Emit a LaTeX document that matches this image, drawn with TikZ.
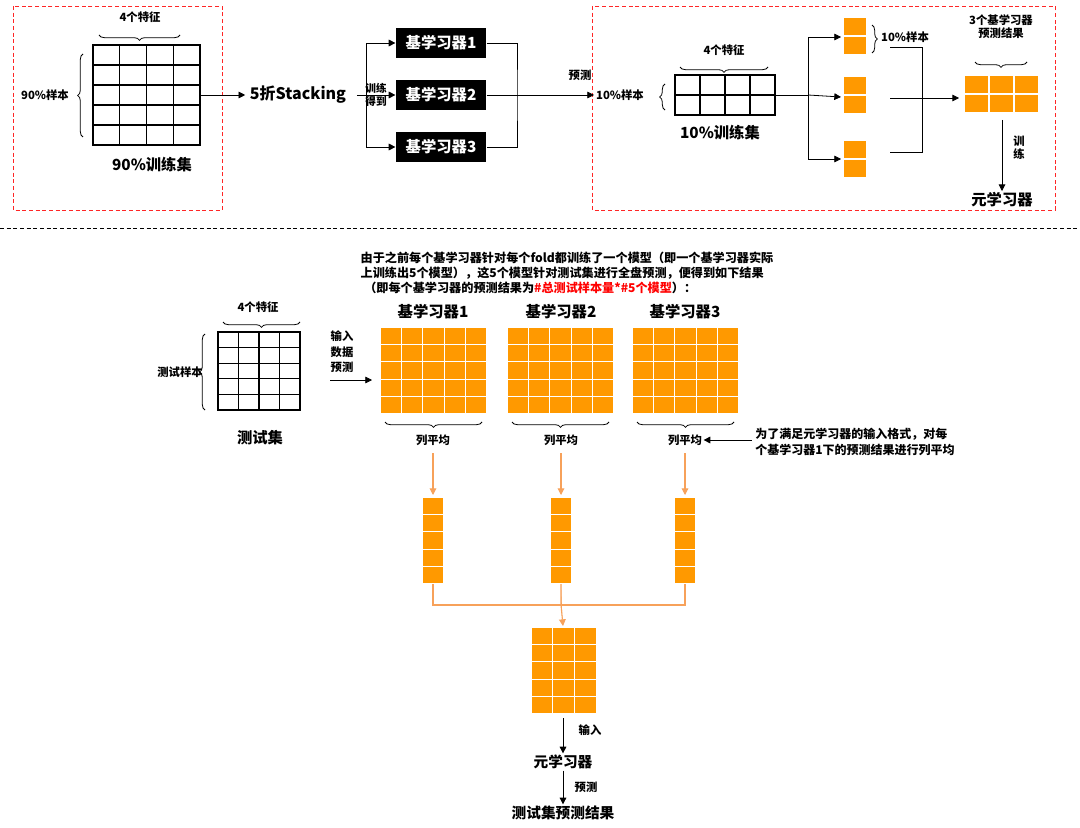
\documentclass[tikz,border=0pt]{standalone}
\usepackage{fontspec}
\setmainfont{Noto Sans CJK SC}
\usepackage{xcolor}
\usetikzlibrary{decorations.pathreplacing,arrows.meta}
\definecolor{orangeres}{HTML}{FF9900}
\definecolor{orangefl}{HTML}{F7A15A}
% grille de cellules : x, y, colonnes, lignes, largeur, hauteur, style
\newcommand{\grilleCases}[7]{%
	\foreach \ci in {1,...,#3}{\foreach \cj in {1,...,#4}{%
		\draw[#7] ({#1+(\ci-1)*#5},{#2+(\cj-1)*#6}) rectangle ++(#5,#6);}}}
\tikzset{
	vide/.style={draw=black,line width=1pt,fill=white},
	plein/.style={draw=white,line width=0.8pt,fill=orangeres},
	etiq/.style={font=\bfseries\fontsize{8.5}{10}\selectfont,align=center,inner sep=1pt},
	titre/.style={font=\bfseries\fontsize{11.5}{13}\selectfont,inner sep=1pt},
	fleche/.style={-{Triangle[length=5pt,width=5pt]},line width=0.6pt},
	flecheor/.style={-{Triangle[length=5pt,width=5pt]},line width=0.8pt,draw=orangefl,fill=orangefl},
	trait/.style={line width=0.6pt},
	accolade/.style={decorate,decoration={brace,amplitude=4pt},line width=0.6pt},
	accoladem/.style={decorate,decoration={brace,mirror,amplitude=4pt},line width=0.6pt},
	boite/.style={fill=black,text=white,minimum width=68pt,minimum height=22pt,font=\bfseries\fontsize{11.5}{13}\selectfont},
	cadre/.style={draw=red!85,densely dashed,line width=0.7pt}
}
\begin{document}
\begin{tikzpicture}[x=0.75pt,y=-0.75pt]
	\useasboundingbox[fill=white] (0,0) rectangle (1080,827);
	%
	% Cadres
	\draw[cadre] (13,6) rectangle (222,210);
	\draw[cadre] (592,6) rectangle (1055,210);
	\draw[densely dashed,line width=0.7pt] (0,228) -- (1080,228);
	%
	% 90% train set
	\grilleCases{93}{45}{4}{5}{26.75}{20}{vide}
	\coordinate (g90) at (200,95);
	\draw[accoladem] (99,35) -- (180,35);
	\node[etiq] (f90) at (140,17) {4个特征};
	\draw[accolade] (83,137) -- (83,54);
	\node[etiq] (s90) at (45,95) {90\%样本};
	\node[titre] (t90) at (152,165) {90\%训练集};
	\node[font=\bfseries\fontsize{12}{14}\selectfont] (stk) at (298,95) {5折Stacking};
	\draw[fleche] (g90) -- (stk.west);
	%
	% Base learners
	\node[boite] (bl1) at (441,43) {基学习器1};
	\node[boite] (bl2) at (441,95) {基学习器2};
	\node[boite] (bl3) at (441,147) {基学习器3};
	\node[etiq,font=\bfseries\fontsize{8}{9.5}\selectfont] (td) at (376,95) {训练\\得到};
	\coordinate (sp) at (366,95);
	\draw[trait] (stk.east) ++(6,0) -- (sp);
	\draw[fleche] (sp) -- (bl2);
	\draw[fleche] (sp) |- (bl1);
	\draw[fleche] (sp) |- (bl3);
	\coordinate (jn) at (517,95);
	\draw[trait] (bl1.east) -| (jn) |- (bl3.east);
	\coordinate (g10w) at (594,95);
	\draw[fleche] (bl2.east) -- (g10w);
	\node[etiq] (pred) at (580,75) {预测};
	%
	% 10% train set
	\grilleCases{675}{75}{4}{2}{25}{20}{vide}
	\node[etiq] (s10) at (620,95) {10\%样本};
	\draw[accolade] (665,110) -- (665,84);
	\draw[accoladem] (680,67) -- (768,67);
	\node[etiq] (f10) at (724,50) {4个特征};
	\node[titre] (t10) at (720,133) {10\%训练集};
	\coordinate (g10e) at (775,95);
	\coordinate (sp2) at (808,95);
	\grilleCases{843}{17}{1}{2}{24}{19}{plein}
	\grilleCases{843}{76}{1}{2}{24}{19}{plein}
	\grilleCases{843}{140}{1}{2}{24}{19}{plein}
	\coordinate (o1) at (841,37);
	\coordinate (o2) at (841,97);
	\coordinate (o3) at (841,159);
	\draw[trait] (g10e) -- (sp2);
	\draw[fleche] (sp2) -- (o2);
	\draw[fleche] (sp2) |- (o1);
	\draw[fleche] (sp2) |- (o3);
	\draw[accolade] (872,25) -- (872,53);
	\node[etiq] (s10b) at (905,37) {10\%样本};
	\coordinate (r1) at (890,47);
	\coordinate (r3) at (890,152);
	\coordinate (r2) at (890,98);
	\coordinate (mg) at (959,98);
	\draw[trait] (r1) -| (922,152) -- (r3);
	\draw[fleche] (r2) -- (mg);
	\grilleCases{964}{75}{3}{2}{25}{19}{plein}
	\draw[accoladem] (975,62) -- (1027,62);
	\node[etiq] (res3) at (1001,27) {3个基学习器\\预测结果};
	\node[titre] (meta) at (1002,200) {元学习器};
	\coordinate (mgb) at (1002,120);
	\draw[fleche] (mgb) -- (meta.north);
	\node[etiq] (tr) at (1019,148) {训\\练};
	%
	% Partie test
	\node[etiq,align=left,font=\bfseries\fontsize{9.1}{11.3}\selectfont] (expl) at (567,273)
		{由于之前每个基学习器针对每个fold都训练了一个模型（即一个基学习器实际\\
		 上训练出5个模型），这5个模型针对测试集进行全盘预测，便得到如下结果\\
		 \hspace*{0.3em}（即每个基学习器的预测结果为\textcolor{red}{\#总测试样本量*\#5个模型}）：};
	\grilleCases{218}{332}{4}{5}{20.5}{15.6}{vide}
	\draw[accoladem] (223,322) -- (300,322);
	\node[etiq] (ft) at (258,307) {4个特征};
	\draw[accolade] (205,410) -- (205,334);
	\node[etiq] (st) at (180,372) {测试样本};
	\node[titre] (tt) at (260,438) {测试集};
	\node[etiq,font=\bfseries\fontsize{8.5}{11.5}\selectfont] (inp) at (342,352) {输入\\数据\\预测};
	\coordinate (ta) at (330,380);
	\coordinate (tb) at (372,380);
	\draw[fleche] (ta) -- (tb);
	%
	\foreach \gx/\cx/\k in {380/433/1,507/561/2,632/685/3}{
		\grilleCases{\gx}{327}{5}{5}{21.4}{17.4}{plein}
		\node[titre] (bt\k) at (\cx,312) {基学习器\k};
		\draw[accoladem] (\gx+5,422) -- (\gx+102,422);
		\node[etiq] (avg\k) at (\cx,440) {列平均};
		\grilleCases{\cx-10.5}{497}{1}{5}{21}{17.4}{plein}
		\coordinate (ct\k) at (\cx,495);
		\coordinate (cb\k) at (\cx,584);
		\draw[flecheor] (avg\k.south) ++(0,6) -- (ct\k);
	}
	\node[etiq,align=left,font=\bfseries\fontsize{9}{11.5}\selectfont] (note) at (855,442) {为了满足元学习器的输入格式，对每\\个基学习器1下的预测结果进行列平均};
	\draw[fleche] (note.west) ++(-2,-2) -- (avg3.east);
	%
	\coordinate (jb) at (561,605);
	\coordinate (mt) at (563,626);
	\draw[orangefl,line width=0.8pt] (cb1) |- (jb) -| (cb3);
	\draw[flecheor] (cb2) |- (jb) -- (mt);
	\grilleCases{531}{627}{3}{5}{21.7}{17.4}{plein}
	\coordinate (mb) at (563,718);
	\node[titre,font=\bfseries\fontsize{11}{12}\selectfont] (mlt) at (563,762) {元学习器};
	\draw[fleche] (mb) -- (mlt.north);
	\node[etiq] (inp2) at (590,730) {输入};
	\node[titre,font=\bfseries\fontsize{11}{12}\selectfont] (res) at (563,813) {测试集预测结果};
	\draw[fleche] (mlt.south) -- (res.north);
	\node[etiq] (pr2) at (586,787) {预测};
\end{tikzpicture}
\end{document}
